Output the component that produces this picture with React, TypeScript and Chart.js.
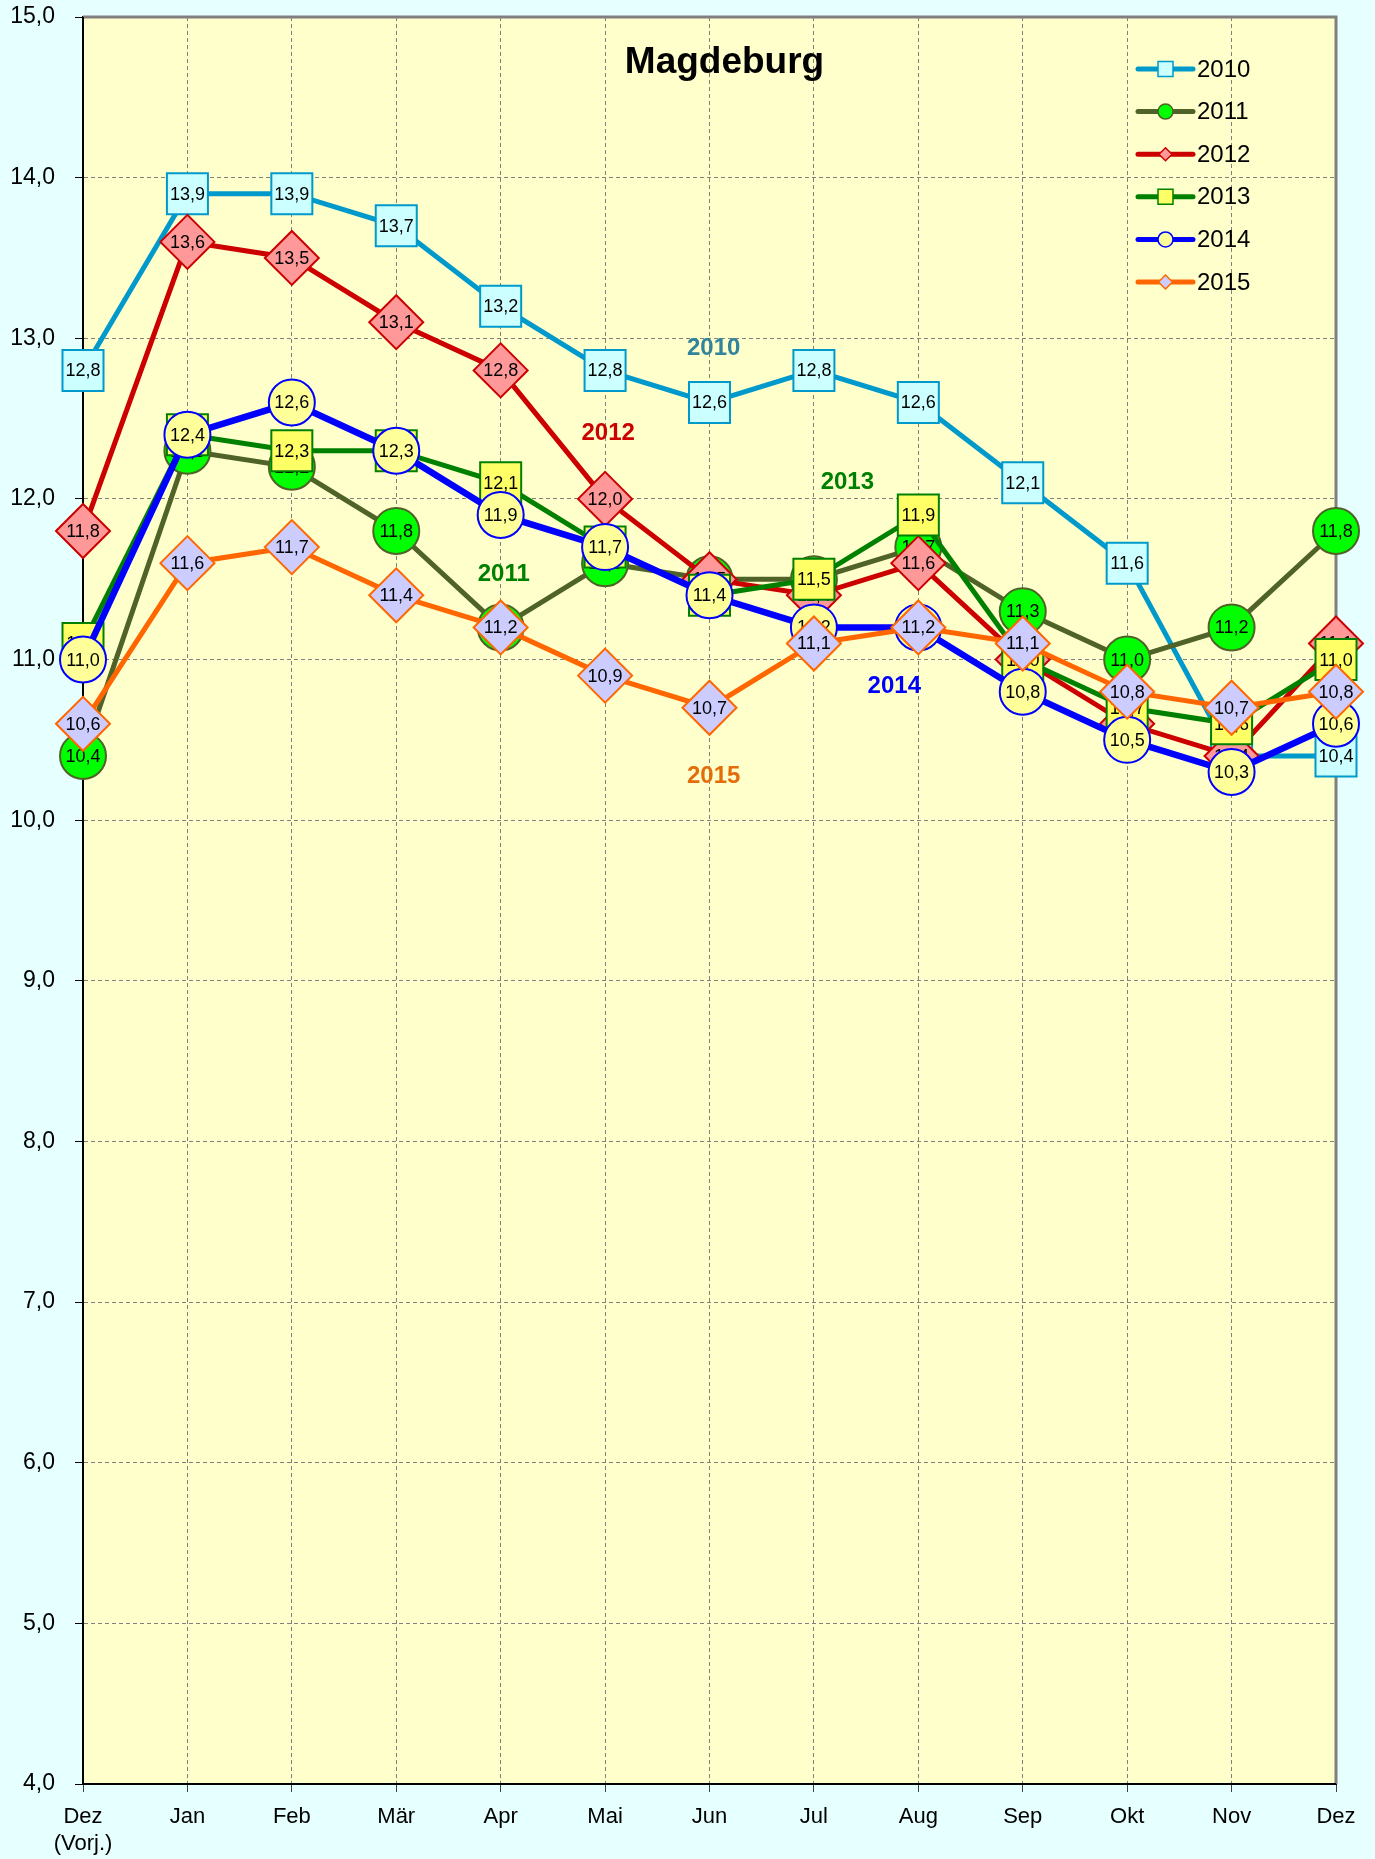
import React, { useEffect, useRef } from 'react';
import { Chart, registerables } from 'chart.js';

Chart.register(...registerables);

// ---------- data ----------
const categories: (string | string[])[] = [
  ['Dez', '(Vorj.)'], 'Jan', 'Feb', 'Mär', 'Apr', 'Mai', 'Jun', 'Jul', 'Aug', 'Sep', 'Okt', 'Nov', 'Dez',
];

const years = ['2010', '2011', '2012', '2013', '2014', '2015'];

const values2010 = [12.8, 13.9, 13.9, 13.7, 13.2, 12.8, 12.6, 12.8, 12.6, 12.1, 11.6, 10.4, 10.4];
const values2011 = [10.4, 12.3, 12.2, 11.8, 11.2, 11.6, 11.5, 11.5, 11.7, 11.3, 11.0, 11.2, 11.8];
const values2012 = [11.8, 13.6, 13.5, 13.1, 12.8, 12.0, 11.5, 11.4, 11.6, 11.0, 10.6, 10.4, 11.1];
const values2013 = [11.1, 12.4, 12.3, 12.3, 12.1, 11.7, 11.4, 11.5, 11.9, 11.0, 10.7, 10.6, 11.0];
const values2014 = [11.0, 12.4, 12.6, 12.3, 11.9, 11.7, 11.4, 11.2, 11.2, 10.8, 10.5, 10.3, 10.6];
const values2015 = [10.6, 11.6, 11.7, 11.4, 11.2, 10.9, 10.7, 11.1, 11.2, 11.1, 10.8, 10.7, 10.8];

const yMin = 4;
const yMax = 15;
const yStep = 1;

const chartTitle = 'Magdeburg';

// in-chart series annotations, anchored in data coordinates (category index, value)
const annotationYears = ['2010', '2012', '2013', '2011', '2014', '2015'];
const annotationX = [6.04, 5.03, 7.32, 4.03, 7.77, 6.04];
const annotationY = [12.94, 12.41, 12.10, 11.53, 10.83, 10.27];
const annotationColors = ['#31849B', '#CC0000', '#008000', '#008000', '#0000FF', '#E46C0A'];

// ---------- styles ----------
const FONT = '"Liberation Sans", Arial, Helvetica, sans-serif';
const PAGE_BG = '#E6FFFF';
const PLOT_BG = '#FFFFCC';

const lineColors = ['#0099CC', '#4F6228', '#CC0000', '#008000', '#0000FF', '#FF6600'];
const markerFills = ['#CCFFFF', '#00FF00', '#FF9999', '#FFFF66', '#FFFF99', '#CCCCFF'];
const markerStyles = ['rect', 'circle', 'rectRot', 'rect', 'circle', 'rectRot'];
const markerRadii = [29, 23, 27, 29, 23, 27];
const lineWidths = [5, 5, 5, 5, 6.5, 5];
const allValues = [values2010, values2011, values2012, values2013, values2014, values2015];

const fmt = (v: number) => v.toFixed(1).replace('.', ',');

const backgroundPlugin = {
  id: 'bgPlugin',
  beforeDraw(chart: any) {
    const { ctx, chartArea } = chart;
    ctx.save();
    ctx.fillStyle = PAGE_BG;
    ctx.fillRect(0, 0, chart.width, chart.height);
    ctx.fillStyle = PLOT_BG;
    ctx.fillRect(chartArea.left, chartArea.top, chartArea.right - chartArea.left, chartArea.bottom - chartArea.top);
    ctx.restore();
  },
  beforeDatasetsDraw(chart: any) {
    const { ctx, chartArea } = chart;
    ctx.save();
    ctx.strokeStyle = '#808080';
    ctx.lineWidth = 3;
    ctx.beginPath();
    ctx.moveTo(chartArea.left, chartArea.top);
    ctx.lineTo(chartArea.right, chartArea.top);
    ctx.lineTo(chartArea.right, chartArea.bottom);
    ctx.stroke();
    ctx.strokeStyle = '#000';
    ctx.lineWidth = 2;
    ctx.beginPath();
    ctx.moveTo(chartArea.left, chartArea.top);
    ctx.lineTo(chartArea.left, chartArea.bottom);
    ctx.lineTo(chartArea.right, chartArea.bottom);
    ctx.stroke();
    ctx.restore();
  },
};

const pointLabelPlugin = {
  id: 'pointLabels',
  afterDatasetDraw(chart: any, args: any) {
    const ctx = chart.ctx;
    const ds = chart.data.datasets[args.index];
    ctx.save();
    ctx.font = `18px ${FONT}`;
    ctx.fillStyle = '#000';
    ctx.textAlign = 'center';
    ctx.textBaseline = 'middle';
    args.meta.data.forEach((pt: any, i: number) => {
      ctx.fillText(fmt(ds.data[i]), pt.x, pt.y + 1);
    });
    ctx.restore();
  },
};

const drawMarker = (ctx: CanvasRenderingContext2D, style: string, x: number, y: number, r: number) => {
  ctx.beginPath();
  if (style === 'circle') {
    ctx.arc(x, y, r, 0, Math.PI * 2);
  } else if (style === 'rect') {
    ctx.rect(x - r, y - r, 2 * r, 2 * r);
  } else {
    ctx.moveTo(x - r, y);
    ctx.lineTo(x, y - r);
    ctx.lineTo(x + r, y);
    ctx.lineTo(x, y + r);
    ctx.closePath();
  }
  ctx.fill();
  ctx.stroke();
};

const overlayPlugin = {
  id: 'overlay',
  afterDatasetsDraw(chart: any) {
    const { ctx, chartArea, scales } = chart;
    ctx.save();
    // title
    ctx.font = `bold 37px ${FONT}`;
    ctx.fillStyle = '#000';
    ctx.textAlign = 'center';
    ctx.textBaseline = 'middle';
    ctx.fillText(chartTitle, (chartArea.left + chartArea.right) / 2 + 15, chartArea.top + 46);

    // series annotations
    ctx.font = `bold 24px ${FONT}`;
    annotationYears.forEach((t, i) => {
      ctx.fillStyle = annotationColors[i];
      ctx.fillText(t, scales.x.getPixelForValue(annotationX[i]), scales.y.getPixelForValue(annotationY[i]));
    });

    // legend
    const lx0 = chartArea.right - 198;
    const lx1 = chartArea.right - 143;
    const mx = (lx0 + lx1) / 2;
    const legendMarkerR = [7.5, 7.5, 6.5, 7.5, 7.5, 7];
    years.forEach((y, i) => {
      const yy = chartArea.top + 52 + i * 42.6;
      ctx.strokeStyle = lineColors[i];
      ctx.lineWidth = 5;
      ctx.lineCap = 'round';
      ctx.beginPath();
      ctx.moveTo(lx0, yy);
      ctx.lineTo(lx1, yy);
      ctx.stroke();
      ctx.lineCap = 'butt';
      ctx.lineWidth = 1.5;
      ctx.fillStyle = markerFills[i];
      drawMarker(ctx, markerStyles[i], mx, yy, legendMarkerR[i]);
      ctx.fillStyle = '#000';
      ctx.font = `24px ${FONT}`;
      ctx.textAlign = 'left';
      ctx.fillText(y, lx1 + 4, yy + 1);
    });
    ctx.restore();
  },
};

export default function App() {
  const ref = useRef<HTMLCanvasElement | null>(null);

  useEffect(() => {
    document.body.style.margin = '0';
    document.body.style.background = PAGE_BG;
    document.body.style.overflow = 'hidden';
    const canvas = ref.current;
    if (!canvas) return;

    const datasets = years.map((y, i) => ({
      label: y,
      data: allValues[i],
      borderColor: lineColors[i],
      borderWidth: lineWidths[i],
      backgroundColor: markerFills[i],
      pointStyle: markerStyles[i],
      pointRadius: markerRadii[i],
      pointBackgroundColor: markerFills[i],
      pointBorderColor: lineColors[i],
      pointBorderWidth: 2,
      tension: 0,
      fill: false,
      clip: false,
      order: years.length - i,
    }));

    const chart = new Chart(canvas, {
      type: 'line',
      data: { labels: categories, datasets: datasets as any },
      options: {
        responsive: false,
        devicePixelRatio: 1,
        animation: false,
        events: [],
        layout: { autoPadding: false, padding: { left: 0, right: 39, top: 17, bottom: 0 } },
        plugins: {
          legend: { display: false },
          tooltip: { enabled: false },
          title: { display: false },
        },
        scales: {
          x: {
            type: 'category',
            offset: false,
            afterFit: (scale: any) => {
              scale.height = 75;
              scale.paddingLeft = 0;
              scale.paddingRight = 0;
            },
            grid: {
              display: true,
              color: '#808080',
              lineWidth: 1,
              tickLength: 8,
              tickColor: '#404040',
              drawOnChartArea: true,
            },
            border: { display: true, color: '#000', width: 2, dash: [4, 3] },
            ticks: {
              color: '#000',
              font: { family: FONT, size: 22 },
              padding: 12,
              maxRotation: 0,
              autoSkip: false,
            },
          },
          y: {
            min: yMin,
            max: yMax,
            afterFit: (scale: any) => {
              scale.width = 83;
              scale.paddingTop = 0;
              scale.paddingBottom = 0;
            },
            grid: {
              display: true,
              color: '#808080',
              lineWidth: 1,
              tickLength: 8,
              tickColor: '#000',
            },
            border: { display: true, color: '#000', width: 2, dash: [4, 3] },
            ticks: {
              stepSize: yStep,
              color: '#000',
              font: { family: FONT, size: 23 },
              padding: 20,
              callback: (v: any) => fmt(Number(v)),
            },
          },
        },
      },
      plugins: [backgroundPlugin, pointLabelPlugin, overlayPlugin],
    });

    return () => chart.destroy();
  }, []);

  return <canvas ref={ref} width={1375} height={1859} style={{ display: 'block', width: 1375, height: 1859 }} />;
}
